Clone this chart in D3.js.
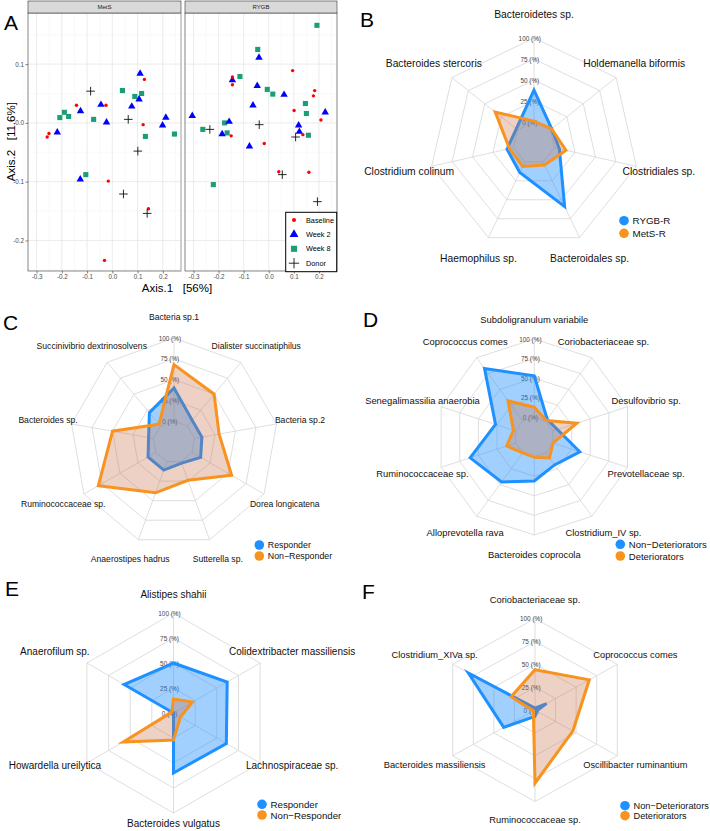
<!DOCTYPE html>
<html>
<head>
<meta charset="utf-8">
<script src="https://cdn.jsdelivr.net/npm/d3@7"></script>
<style>
body { margin: 0; background: #fff; }
text { font-family: "Liberation Sans", Arial, sans-serif; }
</style>
</head>
<body>
<script>
// ---------- panel A data (PCoA coordinates, [Axis.1, Axis.2]) ----------
let groupNames = ['Baseline', 'Week 2', 'Week 8', 'Donor']
let xTicks = [-0.3, -0.2, -0.1, 0, 0.1, 0.2]
let yTicks = [-0.2, -0.1, 0, 0.1]

let metsBaseline = [[0.127,0.074],[-0.142,0.030],[-0.025,0.030],[0.122,-0.003],[-0.258,-0.024],[-0.251,-0.018],[-0.016,-0.099],[0.143,-0.146],[-0.031,-0.234]]
let metsWeek2 = [[0.110,0.084],[-0.045,0.031],[-0.126,0.020],[0.106,0.040],[0.077,0.028],[-0.023,0.001],[0.212,0.009],[0.199,-0.004],[-0.218,-0.016],[-0.127,-0.096]]
let metsWeek8 = [[0.040,0.055],[0.089,0.045],[0.116,0.050],[-0.190,0.018],[-0.173,0.011],[-0.208,0.009],[-0.074,0.006],[0.131,-0.023],[0.246,-0.019],[-0.105,-0.088]]
let metsDonor = [[-0.086,0.054],[0.063,0.006],[0.101,-0.048],[0.044,-0.121],[0.138,-0.154]]

let rygbBaseline = [[0.095,0.089],[-0.145,0.078],[-0.145,0.065],[0.183,0.055],[0.178,0.046],[0.101,0.021],[0.208,0.005],[-0.150,-0.022],[0.136,-0.020],[-0.018,-0.035],[0.040,-0.083],[0.160,-0.084]]
let rygbWeek2 = [[-0.039,0.111],[-0.145,0.073],[-0.046,0.063],[0.061,0.048],[-0.063,0.030],[-0.305,0.012],[0.225,0.018],[-0.158,0.002],[0.119,-0.004],[-0.186,-0.019],[0.122,-0.015],[-0.077,-0.040]]
let rygbWeek8 = [[0.192,0.166],[-0.044,0.125],[-0.115,0.079],[-0.006,0.057],[0.016,0.049],[0.146,0.033],[0.150,0.016],[-0.176,0.000],[-0.263,-0.011],[-0.166,-0.017],[0.158,-0.021],[-0.221,-0.105]]
let rygbDonor = [[-0.235,-0.011],[-0.038,-0.003],[0.107,-0.024],[0.054,-0.088],[0.194,-0.134]]

// ---------- radar data (%) ----------
let ringTicks = [0, 25, 50, 75, 100]

let bAxes = ['Bacteroidetes sp.', 'Holdemanella biformis', 'Clostridiales sp.', 'Bacteroidales sp.', 'Haemophilus sp.', 'Clostridium colinum', 'Bacteroides stercoris']
let bRygbR = [38, 2, 6, 59, 14, 8, 2]
let bMetsR = [1, 2, 14, 4, 6, 5, 34]

let cAxes = ['Bacteria sp.1', 'Dialister succinatiphilus', 'Bacteria sp.2', 'Dorea longicatena', 'Sutterella sp.', 'Anaerostipes hadrus', 'Ruminococcaceae sp.', 'Bacteroides sp.', 'Succinivibrio dextrinosolvens']
let cResponder = [40, 9, 9, 12, 2, 11, 11, 6, 21]
let cNonResponder = [68, 50, 30, 55, 24, 40, 80, 50, 3]

let dAxes = ['Subdoligranulum variabile', 'Coriobacteriaceae sp.', 'Desulfovibrio sp.', 'Prevotellaceae sp.', 'Clostridium_IV sp.', 'Bacteroides coprocola', 'Alloprevotella rava', 'Ruminococcaceae sp.', 'Senegalimassilia anaerobia', 'Coprococcus comes']
let dNonDet = [53, 3, 6, 36, 19, 31, 46, 61, 27, 83]
let dDet = [13, 1, 32, 0, 8, 1, 0, 12, 3, 32]

let eAxes = ['Alistipes shahii', 'Colidextribacter massiliensis', 'Lachnospiraceae sp.', 'Bacteroides vulgatus', 'Howardella ureilytica', 'Anaerofilum sp.']
let eResponder = [50, 62, 61, 60, 0, 57]
let eNonResponder = [14, 22, 8, 27, 58, 2]

let fAxes = ['Coriobacteriaceae sp.', 'Coprococcus comes', 'Oscillibacter ruminantium', 'Ruminococcaceae sp.', 'Bacteroides massiliensis', 'Clostridium_XIVa sp.']
let fNonDet = [2, 14, 2, 7, 38, 81]
let fDet = [44, 66, 46, 80, 2, 29]

// ---------- setup ----------
let width = 710, height = 831
let svg = d3.select('body').append('svg')
    .attr('width', width).attr('height', height)
svg.append('rect').attr('width', width).attr('height', height).attr('fill', '#fff')

let fmt = d => d.toFixed(1)

// ---------- panel A ----------
let plotTop = 13, plotBottom = 271
let y = d3.scaleLinear().domain([-0.252, 0.187]).range([plotBottom, plotTop])
let facets = [
    { name: 'MetS', x0: 28, x1: 181, sets: [metsWeek8, metsWeek2, metsBaseline, metsDonor], idx: [2, 1, 0, 3] },
    { name: 'RYGB', x0: 185, x1: 337, sets: [rygbWeek8, rygbWeek2, rygbBaseline, rygbDonor], idx: [2, 1, 0, 3] }
]
let pointColor = ['#ff0000', '#0000ff', '#1b9e77', '#000']

function addSymbol(sel, k, scale) {
    scale = scale || 1
    if (k == 0) {
        sel.append('circle').attr('r', 1.7 * scale).attr('fill', pointColor[0])
    } else if (k == 1) {
        sel.append('path').attr('d', d3.symbol(d3.symbolTriangle, 24 * scale * scale)()).attr('fill', pointColor[1])
    } else if (k == 2) {
        sel.append('path').attr('d', d3.symbol(d3.symbolSquare, 26 * scale * scale)()).attr('fill', pointColor[2])
    } else {
        let s = 4.3 * scale
        sel.append('path').attr('d', `M${-s},0H${s}M0,${-s}V${s}`)
            .attr('stroke', '#111').attr('stroke-width', 0.9).attr('fill', 'none')
    }
}

let minorX = xTicks.map(t => t - 0.05).concat([0.25])
let minorY = yTicks.map(t => t - 0.05).concat([0.15])

facets.forEach((f, fi) => {
    let x = d3.scaleLinear().domain([-0.334, 0.272]).range([f.x0, f.x1])
    let g = svg.append('g').attr('class', 'facet')

    g.append('rect').attr('x', f.x0).attr('y', plotTop).attr('width', f.x1 - f.x0)
        .attr('height', plotBottom - plotTop).attr('fill', '#fff')

    g.selectAll('.minx').data(minorX).enter().append('line')
        .attr('x1', d => x(d)).attr('x2', d => x(d)).attr('y1', plotTop).attr('y2', plotBottom)
        .attr('stroke', '#f3f3f3').attr('stroke-width', 0.5)
    g.selectAll('.miny').data(minorY).enter().append('line')
        .attr('y1', d => y(d)).attr('y2', d => y(d)).attr('x1', f.x0).attr('x2', f.x1)
        .attr('stroke', '#f3f3f3').attr('stroke-width', 0.5)
    g.selectAll('.majx').data(xTicks).enter().append('line')
        .attr('x1', d => x(d)).attr('x2', d => x(d)).attr('y1', plotTop).attr('y2', plotBottom)
        .attr('stroke', '#e6e6e6').attr('stroke-width', 0.8)
    g.selectAll('.majy').data(yTicks).enter().append('line')
        .attr('y1', d => y(d)).attr('y2', d => y(d)).attr('x1', f.x0).attr('x2', f.x1)
        .attr('stroke', '#e6e6e6').attr('stroke-width', 0.8)

    f.sets.forEach((set, si) => {
        let k = f.idx[si]
        g.append('g').selectAll('g').data(set).enter().append('g')
            .attr('transform', d => 'translate(' + x(d[0]) + ',' + y(d[1]) + ')')
            .each(function() { addSymbol(d3.select(this), k) })
    })

    g.append('rect').attr('x', f.x0).attr('y', plotTop).attr('width', f.x1 - f.x0)
        .attr('height', plotBottom - plotTop).attr('fill', 'none').attr('stroke', '#333').attr('stroke-width', 0.6)

    // strip
    g.append('rect').attr('x', f.x0).attr('y', 1).attr('width', f.x1 - f.x0).attr('height', plotTop - 1)
        .attr('fill', '#d9d9d9').attr('stroke', '#333').attr('stroke-width', 0.6)
    g.append('text').attr('x', (f.x0 + f.x1) / 2).attr('y', 7.2).attr('text-anchor', 'middle')
        .attr('dominant-baseline', 'central').attr('font-size', 6).attr('fill', '#1a1a1a').text(f.name)

    let xa = g.append('g').attr('transform', 'translate(0,' + plotBottom + ')')
        .call(d3.axisBottom(x).tickValues(xTicks).tickFormat(fmt).tickSize(2.5).tickPadding(1.5))
    xa.select('.domain').remove()
    xa.selectAll('line').attr('stroke', '#333').attr('stroke-width', 0.6)
    xa.selectAll('text').attr('font-size', 6.3).attr('fill', '#4d4d4d').attr('font-family', '"Liberation Sans", Arial, sans-serif')

    if (fi == 0) {
        let ya = g.append('g').attr('transform', 'translate(' + f.x0 + ',0)')
            .call(d3.axisLeft(y).tickValues(yTicks).tickFormat(fmt).tickSize(2.5).tickPadding(1.5))
        ya.select('.domain').remove()
        ya.selectAll('line').attr('stroke', '#333').attr('stroke-width', 0.6)
        ya.selectAll('text').attr('font-size', 6.3).attr('fill', '#4d4d4d').attr('font-family', '"Liberation Sans", Arial, sans-serif')
    }
})

svg.append('text').attr('x', 177).attr('y', 292).attr('text-anchor', 'middle')
    .attr('font-size', 11.5).style('white-space', 'pre').text('Axis.1   [56%]')
svg.append('text').attr('transform', 'translate(14.5,141.7) rotate(-90)').attr('text-anchor', 'middle')
    .attr('font-size', 11.5).style('white-space', 'pre').text('Axis.2   [11.6%]')

// legend A
let legA = svg.append('g')
legA.append('rect').attr('x', 285.7).attr('y', 212.3).attr('width', 51).attr('height', 59.4)
    .attr('fill', '#fff').attr('stroke', '#000').attr('stroke-width', 1)
groupNames.forEach((name, k) => {
    let row = legA.append('g').attr('transform', 'translate(294,' + (220 + k * 14.4) + ')')
    addSymbol(row, k, 1.2)
    row.append('text').attr('x', 12).attr('dominant-baseline', 'central')
        .attr('font-size', 7.3).text(name)
})

// ---------- radar panels ----------
let strokeCols = ['#1e90ff', '#f7931e']
let fillCols = ['rgba(30,144,255,0.42)', 'rgba(200,112,70,0.32)']

function radar(cfg) {
    let n = cfg.axes.length
    let g = svg.append('g').attr('class', 'radar')
    let r = d3.scaleLinear().domain([0, 100]).range([cfg.inner, 1])
    let ang = i => 2 * Math.PI * i / n
    let pt = (i, f, kx, ky) => [
        cfg.cx + f * (kx || 1) * cfg.rx * Math.sin(ang(i)),
        cfg.cy - f * (ky || 1) * cfg.ry * Math.cos(ang(i))
    ]
    let line = d3.line().curve(d3.curveLinearClosed)

    g.selectAll('.ring').data(ringTicks).enter().append('path')
        .attr('d', t => line(d3.range(n).map(i => pt(i, r(t)))))
        .attr('fill', 'none').attr('stroke', '#d6d6d6').attr('stroke-width', 0.8)
    g.selectAll('.spoke').data(d3.range(n)).enter().append('line')
        .attr('x1', i => pt(i, r(0))[0]).attr('y1', i => pt(i, r(0))[1])
        .attr('x2', i => pt(i, 1)[0]).attr('y2', i => pt(i, 1)[1])
        .attr('stroke', '#d6d6d6').attr('stroke-width', 0.8)

    g.selectAll('.tick').data(ringTicks).enter().append('text')
        .attr('x', cfg.cx - 0.04 * cfg.rx).attr('y', t => cfg.cy - r(t) * cfg.ry)
        .attr('text-anchor', 'middle').attr('dominant-baseline', 'central')
        .attr('font-size', 6.4).attr('fill', '#444').text(t => t + ' (%)')

    cfg.series.forEach((s, j) => {
        g.append('path').attr('d', line(s.map((v, i) => pt(i, r(v)))))
            .attr('fill', fillCols[j]).attr('stroke', strokeCols[j])
            .attr('stroke-width', 3).attr('stroke-linejoin', 'miter')
    })

    let ldy = cfg.ldy || 0
    g.selectAll('.lab').data(cfg.axes).enter().append('text')
        .attr('x', (d, i) => pt(i, 1, cfg.lx, cfg.ly)[0])
        .attr('y', (d, i) => pt(i, 1, cfg.lx, cfg.ly)[1] + ldy)
        .attr('text-anchor', 'middle').attr('dominant-baseline', 'central')
        .attr('font-size', cfg.font).attr('fill', '#111').text(d => d)

    cfg.names.forEach((name, j) => {
        let ly = cfg.legY + j * cfg.legGap
        g.append('circle').attr('cx', cfg.legX).attr('cy', ly).attr('r', 4.8).attr('fill', strokeCols[j])
        g.append('text').attr('x', cfg.legX + 8.5).attr('y', ly).attr('dominant-baseline', 'central')
            .attr('font-size', cfg.legFont).attr('fill', '#111').text(name)
    })
}

radar({ cx: 534, cy: 143, rx: 105, ry: 105, inner: 0.2, lx: 1.22, ly: 1.22, font: 10.3,
    axes: bAxes, series: [bRygbR, bMetsR], names: ['RYGB-R', 'MetS-R'],
    legX: 624, legY: 220.7, legGap: 12.6, legFont: 9.8 })
radar({ cx: 174, cy: 442, rx: 104, ry: 104, inner: 0.2, lx: 1.23, ly: 1.2, font: 8.6,
    axes: cAxes, series: [cResponder, cNonResponder], names: ['Responder', 'Non\u2212Responder'],
    legX: 259.3, legY: 545, legGap: 11, legFont: 8.8 })
radar({ cx: 534.3, cy: 437, rx: 98, ry: 98, inner: 0.2, lx: 1.2, ly: 1.2, font: 9.4,
    axes: dAxes, series: [dNonDet, dDet], names: ['Non\u2212Deteriorators', 'Deteriorators'],
    legX: 620.3, legY: 544.3, legGap: 11.7, legFont: 9.5 })
radar({ cx: 173.5, cy: 713, rx: 100, ry: 100, inner: 0, lx: 1.37, ly: 1.145, ldy: -4.5, font: 10,
    axes: eAxes, series: [eResponder, eNonResponder], names: ['Responder', 'Non\u2212Responder'],
    legX: 262, legY: 804.3, legGap: 10.7, legFont: 9.7 })
radar({ cx: 535, cy: 710, rx: 95, ry: 91.5, inner: 0, lx: 1.22, ly: 1.2, font: 9.3,
    axes: fAxes, series: [fNonDet, fDet], names: ['Non\u2212Deteriorators', 'Deteriorators'],
    legX: 625, legY: 805.7, legGap: 10, legFont: 9.2 })

// panel letters
let letters = [['A', 4, 30], ['B', 360, 27], ['C', 3, 330], ['D', 363, 327], ['E', 5, 596], ['F', 362, 599]]
svg.selectAll('.letter').data(letters).enter().append('text')
    .attr('x', d => d[1]).attr('y', d => d[2]).attr('font-size', 21).attr('fill', '#000').text(d => d[0])
</script>
</body>
</html>
